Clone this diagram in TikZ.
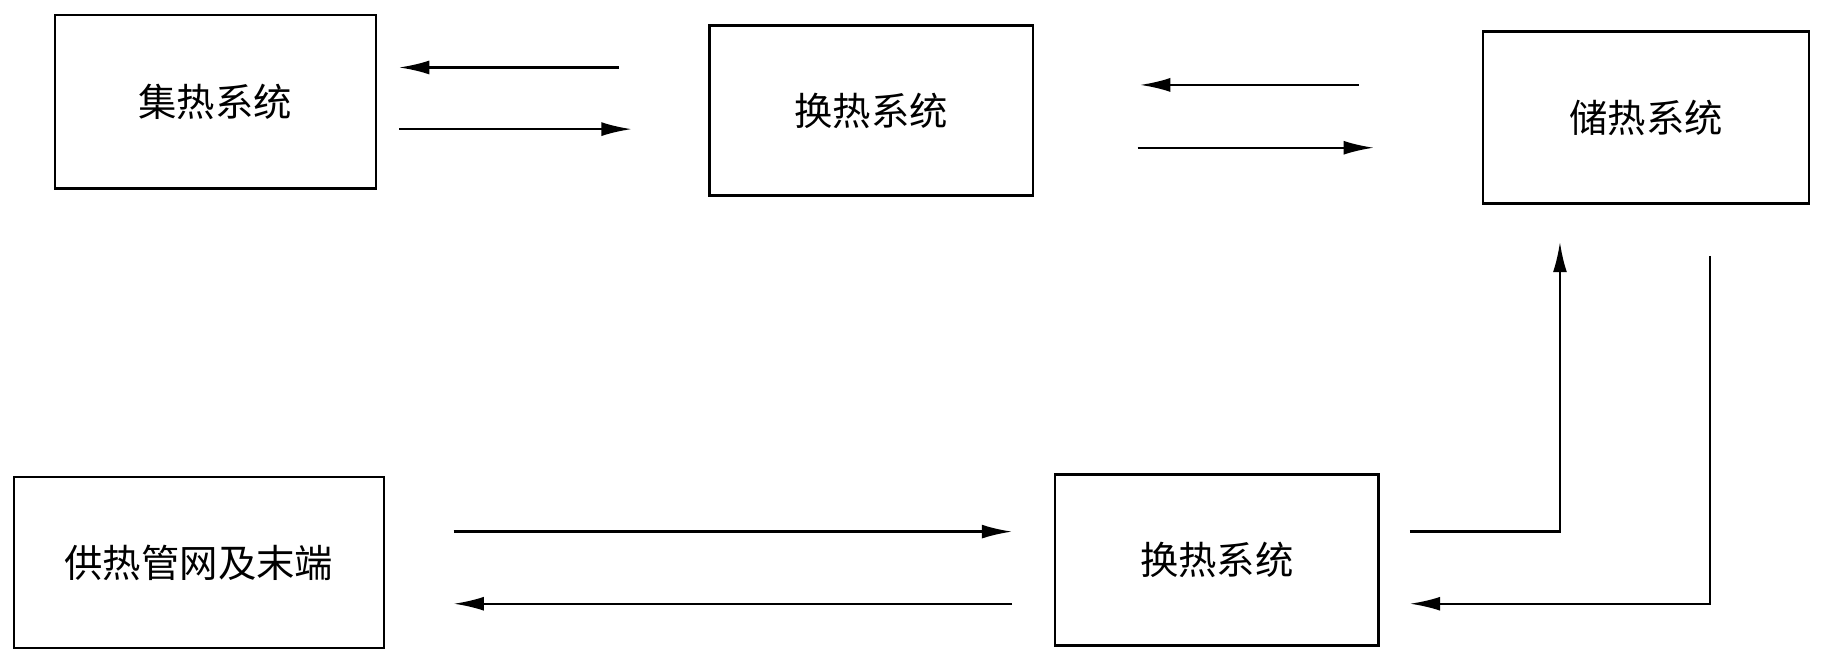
\documentclass[tikz,border=0pt]{standalone}
\usepackage{fontspec}
\newfontfamily\cjk{Noto Sans CJK SC}
\usetikzlibrary{arrows.meta}
\begin{document}
\begin{tikzpicture}[x=1pt,y=1pt,yscale=-1,
  box/.style={draw,line width=2pt,minimum width=#1,inner sep=0pt,font=\cjk\fontsize{33}{40}\selectfont},
  flow/.style={line width=2pt,-{Latex[length=26pt,width=12pt]}},
  pipe/.style={line width=2pt}]
\useasboundingbox (0,0) rectangle (1568,573);
% boxes
\node [box=276pt,minimum height=149pt] (jire) at (185,87.5) {集热系统};
\node [box=278pt,minimum height=146pt] (huanre) at (749,95) {换热系统};
\node [box=280pt,minimum height=148pt] (chure) at (1415,101) {储热系统};
\node [box=318pt,minimum height=147pt] (gongre) at (171,483.5) {供热管网及末端};
\node [box=278pt,minimum height=147pt] (huanreb) at (1046,481.5) {换热系统};
% coordinates of the free ends
\coordinate (a1) at (532,58);  \coordinate (a2) at (343,58);
\coordinate (a3) at (343,111); \coordinate (a4) at (543,111);
\coordinate (b1) at (1168,73); \coordinate (b2) at (980,73);
\coordinate (b3) at (978,127); \coordinate (b4) at (1181,127);
\coordinate (c1) at (870,457); \coordinate (c2) at (390,457);
\coordinate (c3) at (870,519); \coordinate (c4) at (390,519);
\coordinate (d1) at (1212,457); \coordinate (d2) at (1341,457); \coordinate (d3) at (1341,208);
\coordinate (e1) at (1470,220); \coordinate (e2) at (1470,519); \coordinate (e3) at (1212,519);
% connectors
\draw [flow] (a1) -- (a2);
\draw [flow] (a3) -- (a4);
\draw [flow] (b1) -- (b2);
\draw [flow] (b3) -- (b4);
\draw [flow] (c2) -- (c1);
\draw [flow] (c3) -- (c4);
\draw [flow] (d1) -- (d2) -- (d3);
\draw [flow] (e1) -- (e2) -- (e3);
\end{tikzpicture}
\end{document}
